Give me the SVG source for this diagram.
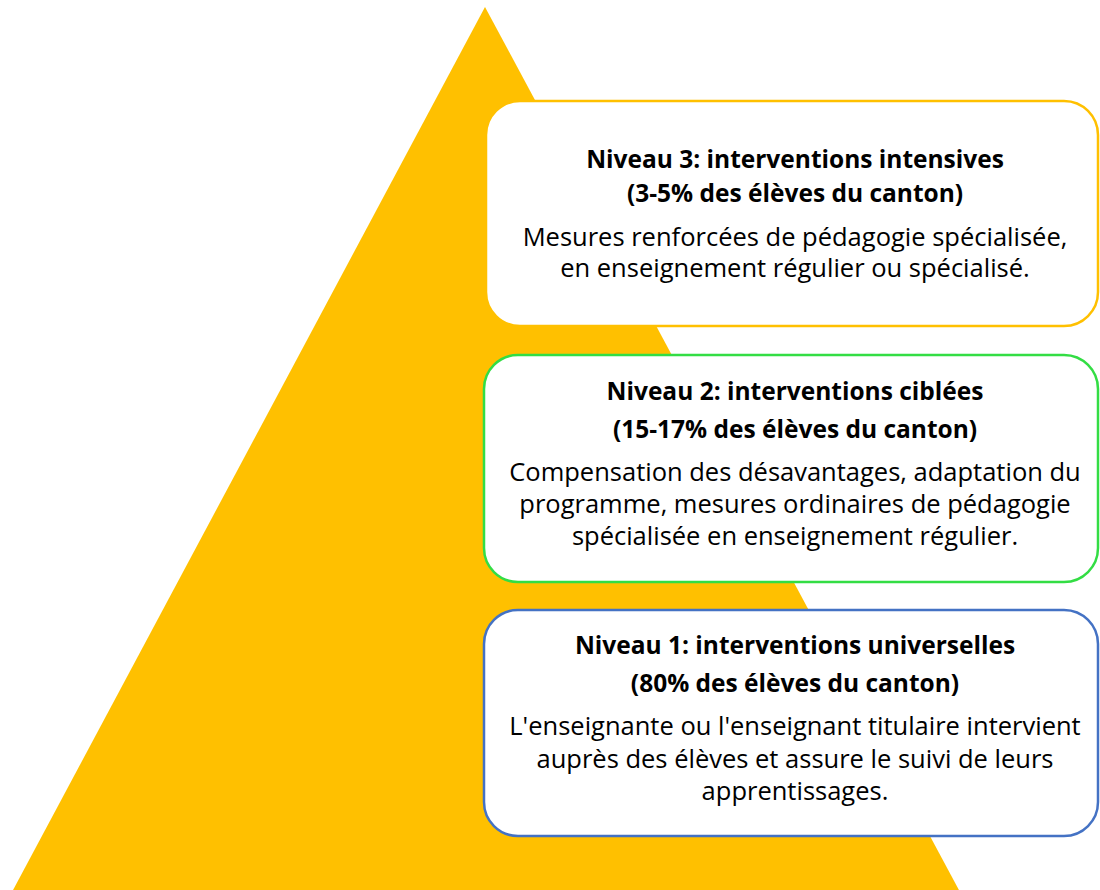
<svg xmlns="http://www.w3.org/2000/svg" width="1100" height="890" viewBox="0 0 1100 890">
<style>
.box{fill:#fff;stroke-width:2.5}
.h{font-family:"Open Sans","Liberation Sans",sans-serif;font-weight:bold;font-size:24.5px;fill:#000;text-anchor:middle}
.t{font-family:"Open Sans","Liberation Sans",sans-serif;font-size:25.5px;fill:#000;text-anchor:middle}
</style>
<rect width="1100" height="890" fill="#fff"/>
<g id="pyramid"><polygon points="485,7 12,892 960,892" fill="#FFC000"/></g>
<g id="connectors"></g>
<g id="niveau3">
<rect class="box" x="486" y="101" width="612" height="225" rx="34" stroke="#FFC000"/>
<text class="h" x="795" y="168">Niveau 3: interventions intensives</text>
<text class="h" x="795" y="202">(3-5% des élèves du canton)</text>
<text class="t" x="795" y="246">Mesures renforcées de pédagogie spécialisée,</text>
<text class="t" x="795" y="277">en enseignement régulier ou spécialisé.</text>
</g>
<g id="niveau2">
<rect class="box" x="484" y="355" width="614" height="227" rx="34" stroke="#33DD44"/>
<text class="h" x="795" y="400">Niveau 2: interventions ciblées</text>
<text class="h" x="795" y="438">(15-17% des élèves du canton)</text>
<text class="t" x="795" y="481">Compensation des désavantages, adaptation du</text>
<text class="t" x="795" y="513">programme, mesures ordinaires de pédagogie</text>
<text class="t" x="795" y="545">spécialisée en enseignement régulier.</text>
</g>
<g id="niveau1">
<rect class="box" x="484" y="610" width="614" height="226" rx="34" stroke="#4472C4"/>
<text class="h" x="795" y="654">Niveau 1: interventions universelles</text>
<text class="h" x="795" y="692">(80% des élèves du canton)</text>
<text class="t" x="795" y="735">L'enseignante ou l'enseignant titulaire intervient</text>
<text class="t" x="795" y="768">auprès des élèves et assure le suivi de leurs</text>
<text class="t" x="795" y="800">apprentissages.</text>
</g>
</svg>
